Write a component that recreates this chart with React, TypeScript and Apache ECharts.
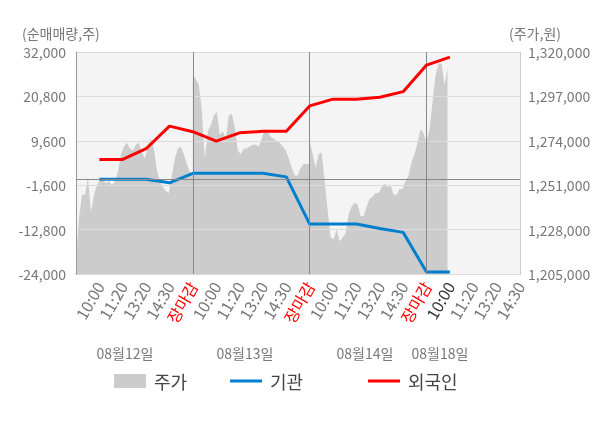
import React, { useEffect, useRef } from 'react';
import * as echarts from 'echarts';

const FONT = '"Noto Sans CJK KR", "Noto Sans", sans-serif';

// x-axis tick labels (index 0 is the left edge, no label)
const TICK_LABELS = ['', '10:00', '11:20', '13:20', '14:30', '장마감', '10:00', '11:20', '13:20', '14:30', '장마감', '10:00', '11:20', '13:20', '14:30', '장마감', '10:00', '11:20', '13:20', '14:30'];
const DATE_LABELS = ['08월12일', '08월13일', '08월14일', '08월18일'];
const SLOTS_PER_DAY = 5;
const SAMPLE_STEPS = 39;
const DAY_BOUNDS = [5, 10, 15];

// 기관 / 외국인 net buying (shares) at tick index 1..16
const INSTITUTION = [-100, -100, -100, -1000, 1400, 1400, 1400, 1400, 500, -11400, -11400, -11400, -12500, -13500, -23500, -23500];
const FOREIGN = [4900, 4900, 7600, 13300, 11900, 9500, 11600, 12000, 12000, 18400, 20100, 20100, 20600, 22000, 28700, 30700];

// 주가 (won), sampled evenly through each day
const DAY1_PRICE = [
  1212000, 1234000, 1246000, 1246000, 1255000, 1237000, 1246000, 1251000, 1254000, 1254000,
  1252000, 1253000, 1251000, 1253000, 1258000, 1267000, 1271000, 1273000, 1270000, 1269000,
  1272000, 1273000, 1268000, 1265000, 1271000, 1275000, 1270000, 1259000, 1253000, 1250000,
  1248000, 1247000, 1256000, 1265000, 1270000, 1271000, 1267000, 1262000, 1258000, 1256000,
];
const DAY2_PRICE = [
  1308000, 1306000, 1303000, 1290000, 1265000, 1279000, 1282000, 1287000, 1289000, 1277000,
  1279000, 1275000, 1287000, 1288000, 1281000, 1269000, 1267000, 1270000, 1270000, 1271000,
  1272000, 1272000, 1271000, 1275000, 1280000, 1279000, 1276000, 1275000, 1274000, 1273000,
  1271000, 1269000, 1265000, 1260000, 1256000, 1256000, 1260000, 1262000, 1262000, 1262000,
];
const DAY3_PRICE = [
  1274000, 1267000, 1260000, 1267000, 1268000, 1253000, 1238000, 1224000, 1223000, 1228000,
  1222000, 1224000, 1226000, 1236000, 1240000, 1242000, 1241000, 1235000, 1235000, 1240000,
  1244000, 1245000, 1247000, 1247000, 1250000, 1252000, 1250000, 1251000, 1246000, 1246000,
  1249000, 1249000, 1253000, 1256000, 1263000, 1267000, 1273000, 1280000, 1278000, 1273000,
];
const DAY4_PRICE = [1274000, 1280000, 1294000, 1308000, 1314000, 1314000, 1303000, 1311000];

const LEFT_MIN = -24000;
const LEFT_MAX = 32000;
const LEFT_STEP = 11200;
const RIGHT_MIN = 1205000;
const RIGHT_MAX = 1320000;
const RIGHT_STEP = 23000;

export default function App() {
  const ref = useRef<HTMLDivElement>(null);

  useEffect(() => {
    if (!ref.current) return;
    const chart = echarts.init(ref.current, null, { renderer: 'svg' });

    const priceData: number[][] = [];
    [DAY1_PRICE, DAY2_PRICE, DAY3_PRICE, DAY4_PRICE].forEach((arr, d) => {
      arr.forEach((p, k) => {
        priceData.push([d * SLOTS_PER_DAY + (SLOTS_PER_DAY * k) / SAMPLE_STEPS, p]);
      });
    });
    const instData = INSTITUTION.map((v, i) => [i + 1, v]);
    const forData = FOREIGN.map((v, i) => [i + 1, v]);

    const lastDay = TICK_LABELS.length - 4;

    const legendCommon = {
      top: 372,
      padding: 0,
      itemWidth: 32,
      itemGap: 8,
      selectedMode: false,
      textStyle: { fontSize: 18, color: '#444', fontFamily: FONT, padding: [0, 0, 0, 3] },
    };

    const option: any = {
      animation: false,
      textStyle: { fontFamily: FONT },
      grid: {
        left: 76,
        right: 80,
        top: 52,
        bottom: 154,
        show: true,
        backgroundColor: '#f4f4f4',
        borderWidth: 0,
      },
      legend: [
        { ...legendCommon, left: 114, itemHeight: 14, data: [{ name: '주가', icon: 'rect' }] },
        { ...legendCommon, left: 230, itemHeight: 3, data: [{ name: '기관', icon: 'rect' }] },
        { ...legendCommon, left: 368, itemHeight: 3, data: [{ name: '외국인', icon: 'rect' }] },
      ],
      xAxis: {
        type: 'value',
        min: 0,
        max: TICK_LABELS.length - 1,
        interval: 1,
        axisLine: { show: true, onZero: false, lineStyle: { color: '#999', width: 1 } },
        axisTick: { show: false },
        splitLine: { show: false },
        axisLabel: {
          rotate: 60,
          margin: 9,
          fontSize: 16,
          color: '#777',
          fontFamily: FONT,
          formatter: (val: number) => {
            const i = Math.round(val);
            const t = TICK_LABELS[i] || '';
            if (t === '장마감') return '{c|' + t + '}';
            if (i === lastDay) return '{d|' + t + '}';
            return t;
          },
          rich: {
            c: { color: '#ff0000', fontSize: 16, fontFamily: FONT },
            d: { color: '#333', fontSize: 16, fontFamily: FONT },
          },
        },
      },
      yAxis: [
        {
          type: 'value',
          min: LEFT_MIN,
          max: LEFT_MAX,
          interval: LEFT_STEP,
          z: 3,
          axisLine: { show: true, onZero: false, lineStyle: { color: '#999' } },
          axisTick: { show: false },
          splitLine: { show: true, lineStyle: { color: '#dcdcdc', width: 1 } },
          axisLabel: { fontSize: 14, color: '#777', margin: 10, fontFamily: FONT },
        },
        {
          type: 'value',
          position: 'right',
          min: RIGHT_MIN,
          max: RIGHT_MAX,
          interval: RIGHT_STEP,
          axisLine: { show: true, onZero: false, lineStyle: { color: '#ccc' } },
          axisTick: { show: false },
          splitLine: { show: false },
          axisLabel: { fontSize: 14, color: '#777', margin: 8, fontFamily: FONT },
        },
      ],
      series: [
        {
          name: '주가',
          type: 'line',
          yAxisIndex: 1,
          data: priceData,
          symbol: 'none',
          z: 2,
          itemStyle: { color: '#cccccc' },
          lineStyle: { width: 0, color: '#cccccc' },
          areaStyle: { color: '#cccccc', opacity: 1, origin: 'start' },
        },
        {
          name: '기관',
          type: 'line',
          yAxisIndex: 0,
          data: instData,
          symbol: 'none',
          z: 4,
          itemStyle: { color: '#0080cc' },
          lineStyle: { width: 3, color: '#0080cc' },
          markLine: {
            silent: true,
            symbol: 'none',
            label: { show: false },
            lineStyle: { color: '#888', width: 1, type: 'solid' },
            data: [{ yAxis: 0 }, ...DAY_BOUNDS.map((b) => ({ xAxis: b }))],
          },
        },
        {
          name: '외국인',
          type: 'line',
          yAxisIndex: 0,
          data: forData,
          symbol: 'none',
          z: 5,
          itemStyle: { color: '#ff0000' },
          lineStyle: { width: 3, color: '#ff0000' },
        },
      ],
      graphic: [
        {
          type: 'text',
          x: 22,
          y: 33,
          style: { text: '(순매매량,주)', fontSize: 14, fontFamily: FONT, fill: '#777', align: 'left', verticalAlign: 'middle' },
        },
        {
          type: 'text',
          x: 509,
          y: 33,
          style: { text: '(주가,원)', fontSize: 14, fontFamily: FONT, fill: '#777', align: 'left', verticalAlign: 'middle' },
        },
        ...DATE_LABELS.map((t, i) => ({
          type: 'text',
          x: [125, 245, 365, 440][i],
          y: 353,
          style: { text: t, fontSize: 14, fontFamily: FONT, fill: '#777', align: 'center', verticalAlign: 'middle' },
        })),
      ],
    };

    chart.setOption(option);
    return () => chart.dispose();
  }, []);

  return <div ref={ref} style={{ position: 'fixed', left: 0, top: 0, width: 600, height: 428 }} />;
}
